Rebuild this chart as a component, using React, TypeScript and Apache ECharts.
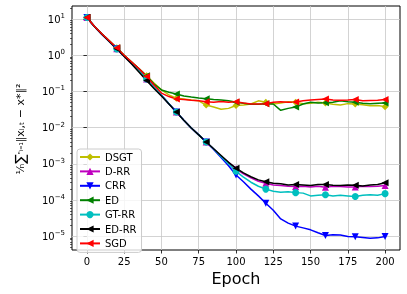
import React, { useEffect, useRef } from "react";
import * as echarts from "echarts";

const epochs = [0, 5, 10, 15, 20, 25, 30, 35, 40, 45, 50, 55, 60, 65, 70, 75, 80, 85, 90, 95, 100,
  105, 110, 115, 120, 125, 130, 135, 140, 145, 150, 155, 160, 165, 170, 175, 180, 185, 190, 195, 200];

const dsgt = [11, 6.3, 3.9, 2.5, 1.6, 1.0, 0.65, 0.42, 0.27, 0.17, 0.11, 0.08, 0.065, 0.062, 0.058, 0.055, 0.042, 0.037, 0.032, 0.034, 0.041,
  0.042, 0.045, 0.055, 0.05, 0.045, 0.048, 0.052, 0.05, 0.046, 0.047, 0.05, 0.048, 0.044, 0.042, 0.046, 0.045, 0.043, 0.04, 0.041, 0.038];
const drr = [11, 6.2, 3.8, 2.4, 1.5, 0.95, 0.6, 0.37, 0.22, 0.13, 0.078, 0.046, 0.027, 0.016, 0.0098, 0.0063, 0.004, 0.0026, 0.0016, 0.0011, 7.3e-4,
  5.3e-4, 4.1e-4, 3.3e-4, 2.9e-4, 2.6e-4, 2.5e-4, 2.4e-4, 2.35e-4, 2.4e-4, 2.3e-4, 2.4e-4, 2.25e-4, 2.4e-4, 2.35e-4, 2.3e-4, 2.3e-4, 2.4e-4, 2.35e-4, 2.4e-4, 2.5e-4];
const crr = [11, 6.2, 3.8, 2.4, 1.5, 0.95, 0.6, 0.37, 0.22, 0.13, 0.078, 0.046, 0.027, 0.016, 0.0098, 0.0063, 0.004, 0.0025, 0.0015, 8.8e-4, 4.9e-4,
  3.2e-4, 2.0e-4, 1.3e-4, 8.1e-5, 5.2e-5, 3.0e-5, 2.3e-5, 1.9e-5, 1.7e-5, 1.5e-5, 1.25e-5, 1.05e-5, 1.1e-5, 1.08e-5, 9.8e-6, 9.6e-6, 9.2e-6, 8.8e-6, 9.0e-6, 9.8e-6];
const ed = [11, 6.3, 3.9, 2.5, 1.6, 1.0, 0.65, 0.42, 0.27, 0.16, 0.11, 0.095, 0.085, 0.075, 0.07, 0.066, 0.063, 0.06, 0.058, 0.055, 0.05,
  0.047, 0.044, 0.044, 0.046, 0.045, 0.03, 0.034, 0.037, 0.045, 0.05, 0.048, 0.049, 0.05, 0.055, 0.052, 0.05, 0.047, 0.046, 0.047, 0.048];
const gtrr = [11, 6.2, 3.8, 2.4, 1.5, 0.95, 0.6, 0.37, 0.22, 0.13, 0.078, 0.046, 0.027, 0.016, 0.0098, 0.0063, 0.004, 0.0026, 0.0016, 0.001, 6.2e-4,
  4.3e-4, 3.1e-4, 2.4e-4, 2.0e-4, 1.75e-4, 1.65e-4, 1.7e-4, 1.6e-4, 1.55e-4, 1.3e-4, 1.35e-4, 1.4e-4, 1.3e-4, 1.35e-4, 1.3e-4, 1.25e-4, 1.35e-4, 1.4e-4, 1.35e-4, 1.5e-4];
const edrr = [11, 6.2, 3.8, 2.4, 1.5, 0.93, 0.57, 0.34, 0.2, 0.12, 0.075, 0.045, 0.027, 0.016, 0.0098, 0.0063, 0.004, 0.0026, 0.0017, 0.0011, 7.6e-4,
  5.6e-4, 4.4e-4, 3.6e-4, 3.2e-4, 2.9e-4, 2.8e-4, 2.6e-4, 2.7e-4, 2.6e-4, 2.5e-4, 2.7e-4, 2.7e-4, 2.55e-4, 2.5e-4, 2.6e-4, 2.55e-4, 2.45e-4, 2.6e-4, 2.7e-4, 3.0e-4];
const sgd = [11, 6.3, 3.9, 2.5, 1.6, 1.0, 0.65, 0.42, 0.26, 0.15, 0.09, 0.072, 0.062, 0.06, 0.057, 0.055, 0.052, 0.05, 0.053, 0.05, 0.052,
  0.048, 0.045, 0.045, 0.046, 0.05, 0.052, 0.05, 0.051, 0.055, 0.058, 0.06, 0.062, 0.058, 0.057, 0.058, 0.06, 0.055, 0.056, 0.057, 0.06];

const xTicks = [0, 25, 50, 75, 100, 125, 150, 175, 200];
const yTicks = [1e-5, 1e-4, 1e-3, 1e-2, 1e-1, 1, 10];
const yMinorTicks = [5e-6, 6e-6, 7e-6, 8e-6, 9e-6,
  2e-5, 3e-5, 4e-5, 5e-5, 6e-5, 7e-5, 8e-5, 9e-5,
  2e-4, 3e-4, 4e-4, 5e-4, 6e-4, 7e-4, 8e-4, 9e-4,
  2e-3, 3e-3, 4e-3, 5e-3, 6e-3, 7e-3, 8e-3, 9e-3,
  2e-2, 3e-2, 4e-2, 5e-2, 6e-2, 7e-2, 8e-2, 9e-2,
  2e-1, 3e-1, 4e-1, 5e-1, 6e-1, 7e-1, 8e-1, 9e-1,
  2, 3, 4, 5, 6, 7, 8, 9, 20];

const FONT = "DejaVu Sans";
const TRI_DOWN = "path://M0,0 L10,0 L5,10 Z";
const TRI_LEFT = "path://M10,0 L10,10 L0,5 Z";
const THIN_DIAMOND = "path://M5,0 L8,5 L5,10 L2,5 Z";

const seriesDefs = [
  { name: "DSGT", values: dsgt, color: "#bfbf00", symbol: THIN_DIAMOND },
  { name: "D-RR", values: drr, color: "#bf00bf", symbol: "triangle" },
  { name: "CRR", values: crr, color: "#0000ff", symbol: TRI_DOWN },
  { name: "ED", values: ed, color: "#008000", symbol: TRI_LEFT },
  { name: "GT-RR", values: gtrr, color: "#00bfbf", symbol: "circle" },
  { name: "ED-RR", values: edrr, color: "#000000", symbol: TRI_LEFT },
  { name: "SGD", values: sgd, color: "#ff0000", symbol: TRI_LEFT },
];

function fmtPow(v: number) {
  const k = Math.round(Math.log10(v));
  const s = k < 0 ? "\u2212" + -k : String(k);
  return `{b|10}{s|${s}}`;
}

export default function App() {
  const ref = useRef<HTMLDivElement>(null);
  useEffect(() => {
    if (!ref.current) return;
    const chart = echarts.init(ref.current, null, { renderer: "svg" });
    const yMin = 4.16e-6;
    const yMax = 22.9;
    chart.setOption({
      animation: false,
      textStyle: { fontFamily: FONT },
      grid: {
        left: 72, right: 7, top: 6, bottom: 44,
        show: true, borderColor: "#000", borderWidth: 1, backgroundColor: "transparent",
      },
      xAxis: {
        type: "value", min: -10, max: 210,
        axisLine: { show: false },
        axisTick: { show: true, inside: false, length: 3.5, customValues: xTicks, lineStyle: { color: "#000", width: 0.8 } },
        axisLabel: { customValues: xTicks, color: "#000", fontSize: 10, fontFamily: FONT, margin: 6 },
        splitLine: { show: true, lineStyle: { color: "#c8c8c8", width: 0.8 } },
      },
      yAxis: [
        {
          type: "log", logBase: 10, min: yMin, max: yMax,
          axisLine: { show: false },
          axisTick: { show: true, inside: false, length: 3.5, customValues: yTicks, lineStyle: { color: "#000", width: 0.8 } },
          axisLabel: {
            customValues: yTicks, color: "#000", margin: 7, fontFamily: FONT,
            formatter: (v: number) => fmtPow(v),
            rich: {
              b: { fontSize: 10, fontFamily: FONT, color: "#000" },
              s: { fontSize: 7, fontFamily: FONT, color: "#000", padding: [0, 0, 6, 0] },
            },
          },
          splitLine: { show: true, lineStyle: { color: "#c8c8c8", width: 0.8 } },
        },
        {
          type: "log", logBase: 10, min: yMin, max: yMax, position: "left",
          axisLine: { show: false },
          axisTick: { show: true, inside: false, length: 2, customValues: yMinorTicks, lineStyle: { color: "#000", width: 0.6 } },
          axisLabel: { show: false },
          splitLine: { show: false },
        },
      ],
      legend: {
        orient: "vertical", left: 77, top: 149,
        padding: [3, 5, 4, 2],
        itemWidth: 20, itemHeight: 9, itemGap: 4.4,
        backgroundColor: "rgba(255,255,255,0.8)",
        borderColor: "#cccccc", borderWidth: 1, borderRadius: 3,
        textStyle: { fontSize: 10, fontFamily: FONT, color: "#000", lineHeight: 9 },
        data: seriesDefs.map((s) => s.name),
      },
      series: seriesDefs.map((s) => ({
        name: s.name,
        type: "line",
        yAxisIndex: 0,
        data: epochs.map((e, i) => [e, s.values[i]]),
        symbol: s.symbol,
        showSymbol: true,
        showAllSymbol: true,
        symbolSize: (_v: any, p: any) => (p.dataIndex % 4 === 0 ? 7 : 0),
        lineStyle: { color: s.color, width: 1.5 },
        itemStyle: { color: s.color },
        emphasis: { disabled: true },
      })),
      graphic: [
        {
          type: "text", x: 236, y: 278,
          style: { text: "Epoch", fontSize: 16, fontFamily: FONT, fill: "#000", align: "center", verticalAlign: "middle" },
        },
        {
          type: "text", x: 20, y: 129, rotation: Math.PI / 2,
          style: {
            text: "{n|\u00B9\u2044\u2099}{S|\u2211}{l|\u207F\u1D62\u208C\u2081}{m|\u2016x\u1D62,\u209C \u2212 x*\u2016\u00B2}",
            align: "center", verticalAlign: "middle",
            rich: {
              n: { fontSize: 11, fontFamily: FONT, fill: "#000" },
              S: { fontSize: 14, fontFamily: FONT, fill: "#000" },
              l: { fontSize: 8, fontFamily: FONT, fill: "#000" },
              m: { fontSize: 11, fontFamily: FONT, fill: "#000" },
            },
          },
        },
      ],
    });
    return () => chart.dispose();
  }, []);
  return <div ref={ref} style={{ position: "fixed", left: 0, top: 0, width: 407, height: 294 }} />;
}
